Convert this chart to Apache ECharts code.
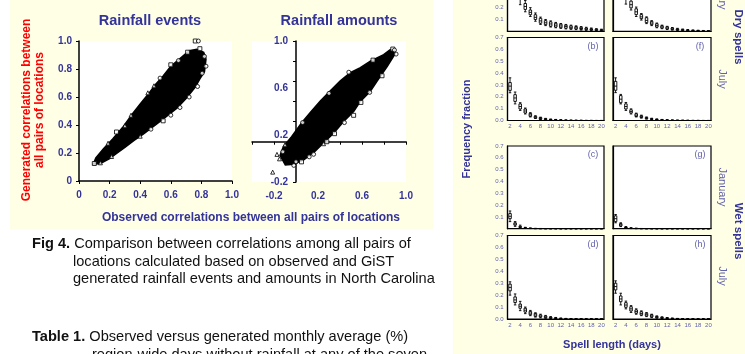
<!DOCTYPE html>
<html>
<head>
<meta charset="utf-8">
<script src="https://cdn.jsdelivr.net/npm/echarts@6/dist/echarts.min.js"></script>
<style>
  html, body { margin: 0; padding: 0; background: #fff; }
  #chart { width: 745px; height: 354px; }
</style>
</head>
<body>
<div id="chart"></div>
<script>
const FONT = '"Liberation Sans", Arial, sans-serif';
const BLUE = '#333399';
const LIGHT_BLUE = '#6262ad';

// ---- scatter data (correlations, observed vs generated) ----
// outline of the solid black point cloud
const eventsCloud = [
  [0.093, 0.12], [0.14, 0.125], [0.2, 0.16], [0.25, 0.2], [0.3, 0.24], [0.36, 0.29], [0.42, 0.335],
  [0.5, 0.4], [0.57, 0.46], [0.64, 0.52], [0.7, 0.59], [0.76, 0.67], [0.79, 0.73], [0.82, 0.78],
  [0.83, 0.87], [0.815, 0.92], [0.77, 0.94], [0.72, 0.93], [0.66, 0.875], [0.6, 0.82], [0.55, 0.75],
  [0.5, 0.69], [0.46, 0.63], [0.4, 0.55], [0.35, 0.48], [0.29, 0.39], [0.22, 0.3], [0.16, 0.23], [0.11, 0.165]
];
const eventsSquares = [[0.76, 1.0], [0.71, 0.92], [0.1, 0.125], [0.245, 0.35], [0.6, 0.83], [0.79, 0.945], [0.55, 0.43]];
const eventsCircles = [[0.78, 1.0], [0.82, 0.89], [0.805, 0.77], [0.775, 0.675], [0.72, 0.6], [0.66, 0.525],
  [0.6, 0.47], [0.47, 0.37], [0.65, 0.86], [0.53, 0.735], [0.83, 0.82]];
const eventsTriangles = [[0.213, 0.175], [0.49, 0.68], [0.45, 0.63], [0.34, 0.47], [0.19, 0.27], [0.14, 0.13], [0.3, 0.395], [0.4, 0.32]];

const amountsCloud = [
  [0.888, 0.91], [0.903, 0.877], [0.827, 0.744], [0.736, 0.6], [0.676, 0.5], [0.585, 0.4],
  [0.524, 0.3], [0.433, 0.2], [0.342, 0.085], [0.252, -0.01], [0.16, -0.11], [0.07, -0.18],
  [-0.02, -0.225], [-0.097, -0.23], [-0.145, -0.136], [-0.115, -0.05], [-0.04, 0.05], [0.05, 0.185],
  [0.13, 0.29], [0.221, 0.405], [0.312, 0.505], [0.403, 0.605], [0.494, 0.685], [0.585, 0.735],
  [0.676, 0.8], [0.736, 0.832], [0.797, 0.865], [0.858, 0.915]
];
const amountsSquares = [[0.524, 0.262], [0.59, 0.39], [0.782, 0.655], [0.28, 0.0], [0.88, 0.92], [0.7, 0.81], [0.05, -0.2], [0.35, 0.08]];
const amountsCircles = [[0.895, 0.91], [0.91, 0.87], [0.67, 0.49], [0.44, 0.19], [0.16, -0.125], [-0.02, -0.235], [0.0, -0.2],
  [0.48, 0.69], [0.3, 0.48], [0.06, 0.19], [-0.12, -0.1], [0.12, -0.15]];
const amountsTriangles = [[-0.212, -0.302], [-0.173, -0.126], [-0.15, -0.17], [-0.1, -0.03], [0.25, -0.02]];

const amountsLabels = ['-0.2', '0.2', '0.6', '1.0'];

// ---- spell length box plots: [min, q1, median, q3, max] for 2..20 days ----
const days = ['2', '3', '4', '5', '6', '7', '8', '9', '10', '11', '12', '13', '14', '15', '16', '17', '18', '19', '20'];

const dryJanA = [
  [0.36, 0.40, 0.42, 0.44, 0.48], [0.28, 0.31, 0.33, 0.35, 0.38], [0.225, 0.275, 0.29, 0.305, 0.33],
  [0.165, 0.185, 0.21, 0.235, 0.26], [0.125, 0.14, 0.16, 0.18, 0.2], [0.085, 0.1, 0.118, 0.14, 0.155],
  [0.058, 0.068, 0.088, 0.11, 0.12], [0.048, 0.056, 0.072, 0.09, 0.1], [0.036, 0.043, 0.062, 0.08, 0.088],
  [0.03, 0.036, 0.052, 0.068, 0.075], [0.025, 0.03, 0.045, 0.06, 0.066], [0.02, 0.026, 0.04, 0.052, 0.058],
  [0.017, 0.022, 0.034, 0.046, 0.052], [0.014, 0.019, 0.029, 0.04, 0.046], [0.01, 0.016, 0.024, 0.034, 0.04],
  [0.008, 0.013, 0.02, 0.028, 0.034], [0.006, 0.01, 0.016, 0.022, 0.028], [0.004, 0.008, 0.012, 0.018, 0.022],
  [0.003, 0.006, 0.01, 0.014, 0.018]
];
const dryJanE = [
  [0.4, 0.44, 0.46, 0.48, 0.52], [0.3, 0.33, 0.35, 0.37, 0.4], [0.23, 0.28, 0.3, 0.32, 0.35],
  [0.18, 0.198, 0.225, 0.255, 0.27], [0.125, 0.141, 0.165, 0.19, 0.205], [0.095, 0.107, 0.122, 0.141, 0.15],
  [0.065, 0.073, 0.092, 0.115, 0.122], [0.048, 0.056, 0.07, 0.084, 0.09], [0.03, 0.036, 0.05, 0.064, 0.07],
  [0.022, 0.027, 0.037, 0.047, 0.052], [0.015, 0.019, 0.028, 0.038, 0.042], [0.01, 0.014, 0.02, 0.028, 0.032],
  [0.007, 0.01, 0.015, 0.021, 0.025], [0.005, 0.007, 0.011, 0.016, 0.019], [0.003, 0.005, 0.008, 0.012, 0.015],
  [0.002, 0.004, 0.006, 0.009, 0.011], [0.001, 0.003, 0.004, 0.007, 0.009], [0.001, 0.002, 0.003, 0.005, 0.007],
  [0, 0.001, 0.002, 0.004, 0.005]
];
const dryJulB = [
  [0.234, 0.254, 0.29, 0.32, 0.36], [0.14, 0.161, 0.19, 0.218, 0.24], [0.085, 0.097, 0.118, 0.14, 0.15],
  [0.055, 0.063, 0.08, 0.097, 0.105], [0.03, 0.035, 0.047, 0.06, 0.066], [0.017, 0.02, 0.028, 0.035, 0.04],
  [0.008, 0.01, 0.017, 0.025, 0.028], [0.005, 0.007, 0.011, 0.015, 0.018], [0.003, 0.004, 0.007, 0.01, 0.012],
  [0.002, 0.003, 0.005, 0.007, 0.009], [0.001, 0.002, 0.003, 0.005, 0.006], [0.001, 0.001, 0.002, 0.003, 0.004],
  [0, 0.001, 0.001, 0.002, 0.003], [0, 0, 0.001, 0.002, 0.002], [0, 0, 0.001, 0.001, 0.002],
  [0, 0, 0, 0.001, 0.001], [0, 0, 0, 0.001, 0.001], [0, 0, 0, 0, 0.001], [0, 0, 0, 0, 0.001]
];
const dryJulF = [
  [0.235, 0.255, 0.29, 0.33, 0.36], [0.14, 0.15, 0.18, 0.21, 0.22], [0.085, 0.097, 0.118, 0.14, 0.152],
  [0.055, 0.063, 0.075, 0.09, 0.098], [0.03, 0.034, 0.045, 0.057, 0.062], [0.02, 0.025, 0.032, 0.04, 0.045],
  [0.012, 0.015, 0.02, 0.025, 0.03], [0.007, 0.009, 0.012, 0.016, 0.019], [0.004, 0.005, 0.008, 0.011, 0.013],
  [0.002, 0.003, 0.005, 0.007, 0.009], [0.001, 0.002, 0.003, 0.005, 0.006], [0.001, 0.001, 0.002, 0.003, 0.004],
  [0, 0.001, 0.001, 0.002, 0.003], [0, 0, 0.001, 0.002, 0.002], [0, 0, 0.001, 0.001, 0.002],
  [0, 0, 0, 0.001, 0.001], [0, 0, 0, 0.001, 0.001], [0, 0, 0, 0, 0.001], [0, 0, 0, 0, 0.001]
];
const wetJanC = [
  [0.06, 0.085, 0.105, 0.128, 0.15], [0.02, 0.03, 0.04, 0.05, 0.06], [0.005, 0.01, 0.015, 0.02, 0.03],
  [0.002, 0.004, 0.006, 0.009, 0.012], [0.001, 0.002, 0.003, 0.004, 0.006], [0, 0.001, 0.001, 0.002, 0.003],
  [0, 0, 0.001, 0.001, 0.002], [0, 0, 0, 0.001, 0.001], [0, 0, 0, 0, 0.001], [0, 0, 0, 0, 0.001],
  [0, 0, 0, 0, 0], [0, 0, 0, 0, 0], [0, 0, 0, 0, 0], [0, 0, 0, 0, 0], [0, 0, 0, 0, 0],
  [0, 0, 0, 0, 0], [0, 0, 0, 0, 0], [0, 0, 0, 0, 0], [0, 0, 0, 0, 0]
];
const wetJanG = [
  [0.05, 0.06, 0.085, 0.109, 0.12], [0.018, 0.023, 0.033, 0.043, 0.05], [0.004, 0.007, 0.01, 0.014, 0.018],
  [0.001, 0.002, 0.004, 0.006, 0.008], [0, 0.001, 0.002, 0.003, 0.004], [0, 0, 0.001, 0.001, 0.002],
  [0, 0, 0, 0.001, 0.001], [0, 0, 0, 0, 0.001], [0, 0, 0, 0, 0], [0, 0, 0, 0, 0],
  [0, 0, 0, 0, 0], [0, 0, 0, 0, 0], [0, 0, 0, 0, 0], [0, 0, 0, 0, 0], [0, 0, 0, 0, 0],
  [0, 0, 0, 0, 0], [0, 0, 0, 0, 0], [0, 0, 0, 0, 0], [0, 0, 0, 0, 0]
];
const wetJulD = [
  [0.2, 0.236, 0.265, 0.292, 0.312], [0.118, 0.138, 0.16, 0.185, 0.21], [0.07, 0.09, 0.107, 0.125, 0.148],
  [0.045, 0.058, 0.074, 0.09, 0.1], [0.028, 0.036, 0.05, 0.064, 0.072], [0.016, 0.022, 0.034, 0.047, 0.052],
  [0.01, 0.016, 0.024, 0.034, 0.04], [0.006, 0.01, 0.017, 0.025, 0.03], [0.004, 0.007, 0.011, 0.016, 0.02],
  [0.002, 0.004, 0.007, 0.01, 0.013], [0.001, 0.002, 0.004, 0.006, 0.008], [0.001, 0.001, 0.002, 0.004, 0.005],
  [0, 0.001, 0.001, 0.002, 0.003], [0, 0, 0.001, 0.001, 0.002], [0, 0, 0, 0.001, 0.001],
  [0, 0, 0, 0, 0.001], [0, 0, 0, 0, 0.001], [0, 0, 0, 0, 0], [0, 0, 0, 0, 0]
];
const wetJulH = [
  [0.216, 0.244, 0.272, 0.3, 0.32], [0.118, 0.145, 0.168, 0.193, 0.216], [0.085, 0.098, 0.117, 0.137, 0.15],
  [0.055, 0.067, 0.085, 0.103, 0.112], [0.04, 0.048, 0.062, 0.076, 0.085], [0.028, 0.034, 0.047, 0.061, 0.068],
  [0.02, 0.025, 0.036, 0.048, 0.054], [0.012, 0.017, 0.026, 0.036, 0.04], [0.007, 0.01, 0.016, 0.022, 0.026],
  [0.004, 0.005, 0.01, 0.015, 0.018], [0.002, 0.004, 0.007, 0.01, 0.012], [0.001, 0.002, 0.004, 0.006, 0.008],
  [0.001, 0.001, 0.002, 0.004, 0.005], [0, 0.001, 0.001, 0.002, 0.003], [0, 0, 0.001, 0.001, 0.002],
  [0, 0, 0, 0.001, 0.001], [0, 0, 0, 0, 0.001], [0, 0, 0, 0, 0.001], [0, 0, 0, 0, 0]
];

// panel order: a, e, b, f, c, g, d, h
const panelData = [dryJanA, dryJanE, dryJulB, dryJulF, wetJanC, wetJanG, wetJulD, wetJulH];
const panelLetters = ['(a)', '(e)', '(b)', '(f)', '(c)', '(g)', '(d)', '(h)'];

const colLeft = [507.5, 613];
const colWidth = [96.5, 98];
const rowTop = [-51.5, 37.5, 146, 235.5];
const rowHeight = [82.8, 83, 82.7, 83.5];

const grids = [];
const xAxes = [];
const yAxes = [];
const series = [];

panelData.forEach(function (data, i) {
  const col = i % 2;
  const row = Math.floor(i / 2);
  const showX = row === 1 || row === 3;
  grids.push({
    left: colLeft[col], top: rowTop[row], width: colWidth[col], height: rowHeight[row],
    show: true, backgroundColor: '#fff', borderColor: '#000', borderWidth: 1.2,
    containLabel: false, outerBoundsMode: 'none'
  });
  xAxes.push({
    gridIndex: i, type: 'category', data: days, boundaryGap: true,
    axisLine: { onZero: false, lineStyle: { color: '#000', width: 1.2 } },
    axisTick: { interval: 0, inside: true, length: 2, lineStyle: { color: '#000', width: 0.8 } },
    axisLabel: { show: showX, interval: 1, fontSize: 6, color: LIGHT_BLUE, margin: 3, fontFamily: FONT },
    splitLine: { show: false }
  });
  yAxes.push({
    gridIndex: i, type: 'value', min: 0, max: 0.7, interval: 0.1,
    axisLine: { show: true, onZero: false, lineStyle: { color: '#000', width: 1.2 } },
    axisTick: { length: 2, lineStyle: { color: '#000', width: 0.8 } },
    axisLabel: {
      show: col === 0, fontSize: 6, color: LIGHT_BLUE, margin: 4, fontFamily: FONT,
      formatter: function (v) { return (v === 0 && !showX) ? '' : v.toFixed(1); }
    },
    splitLine: { show: false }
  });
  series.push({
    type: 'boxplot', xAxisIndex: i, yAxisIndex: i, data: data,
    boxWidth: [2.5, 3], silent: true,
    itemStyle: { color: '#fff', borderColor: '#000', borderWidth: 0.9 }
  });
});

// scatter grids: 8 = rainfall events, 9 = rainfall amounts
grids.push({ left: 79, top: 41, width: 153, height: 140, show: true, backgroundColor: '#fff', borderWidth: 0, containLabel: false, outerBoundsMode: 'none' });
grids.push({ left: 252, top: 41, width: 154, height: 141, show: true, backgroundColor: '#fff', borderWidth: 0, containLabel: false, outerBoundsMode: 'none' });

const scatterLabel = { fontSize: 10, fontWeight: 'bold', color: BLUE, fontFamily: FONT };
xAxes.push({
  gridIndex: 8, type: 'value', min: 0, max: 1, interval: 0.2,
  axisLine: { lineStyle: { color: '#000', width: 1.5 } },
  axisTick: { length: 3, lineStyle: { color: '#000' } },
  axisLabel: Object.assign({ margin: 9, formatter: function (v) { return v === 0 ? '0' : v.toFixed(1); } }, scatterLabel),
  splitLine: { show: false }
});
yAxes.push({
  gridIndex: 8, type: 'value', min: 0, max: 1, interval: 0.2,
  axisLine: { lineStyle: { color: '#000', width: 1.5 } },
  axisTick: { length: 3, lineStyle: { color: '#000' } },
  axisLabel: Object.assign({ margin: 7, formatter: function (v) { return v === 0 ? '0' : v.toFixed(1); } }, scatterLabel),
  splitLine: { show: false }
});
xAxes.push({
  gridIndex: 9, type: 'value', min: -0.4, max: 1.0, interval: 0.2,
  axisLine: { onZero: true, onZeroAxisIndex: 9, lineStyle: { color: '#000', width: 1.5 } },
  axisTick: { length: 3, lineStyle: { color: '#000' } },
  axisLabel: Object.assign({
    margin: 9,
    formatter: function (v) {
      const s = (Math.round(v * 10) / 10).toFixed(1);
      return amountsLabels.indexOf(s) >= 0 ? s : '';
    }
  }, scatterLabel),
  splitLine: { show: false }
});
yAxes.push({
  gridIndex: 9, type: 'value', min: -0.4, max: 1.0, interval: 0.2,
  axisLine: { onZero: true, lineStyle: { color: '#000', width: 1.5 } },
  axisTick: { length: 3, lineStyle: { color: '#000' } },
  axisLabel: { show: false },
  splitLine: { show: false }
});
// label-only axis, placed like the labels printed on the poster
yAxes.push({
  gridIndex: 9, type: 'value', min: -0.2, max: 1.0, interval: 0.4, position: 'left', offset: -44,
  axisLine: { show: false, onZero: false }, axisTick: { show: false },
  axisLabel: Object.assign({ margin: 8, formatter: function (v) { return v.toFixed(1); } }, scatterLabel),
  splitLine: { show: false }
});

function cloudSeries(axisIdx, pts) {
  return {
    type: 'custom', coordinateSystem: 'cartesian2d', xAxisIndex: axisIdx, yAxisIndex: axisIdx,
    data: pts, silent: true,
    renderItem: function (params, api) {
      if (params.dataIndex !== 0) return null;
      return {
        type: 'polygon',
        shape: { points: pts.map(function (p) { return api.coord(p); }) },
        style: { fill: '#000', stroke: '#000', lineWidth: 1.5 }
      };
    }
  };
}
function markerSeries(axisIdx, pts, symbol) {
  return {
    type: 'scatter', xAxisIndex: axisIdx, yAxisIndex: axisIdx, data: pts, symbol: symbol,
    symbolSize: 4, silent: true,
    itemStyle: { color: '#fff', borderColor: '#000', borderWidth: 1 }
  };
}
series.push(cloudSeries(8, eventsCloud));
series.push(markerSeries(8, eventsSquares, 'rect'));
series.push(markerSeries(8, eventsCircles, 'circle'));
series.push(markerSeries(8, eventsTriangles, 'triangle'));
series.push(cloudSeries(9, amountsCloud));
series.push(markerSeries(9, amountsSquares, 'rect'));
series.push(markerSeries(9, amountsCircles, 'circle'));
series.push(markerSeries(9, amountsTriangles, 'triangle'));

function txt(x, y, text, opts) {
  const o = opts || {};
  return {
    type: 'text', x: x, y: y, rotation: o.rotation || 0, z: 100,
    style: {
      text: text, fill: o.color || BLUE, fontFamily: FONT,
      fontSize: o.size || 12, fontWeight: o.weight || 'bold',
      textAlign: o.align || 'center', textVerticalAlign: 'middle',
      lineHeight: o.lineHeight, rich: o.rich
    }
  };
}

const CAP = 14.6;
const captionRich = { b: { fontWeight: 'bold', fontSize: CAP, fontFamily: FONT, fill: '#111' } };
const capOpts = { size: CAP, weight: 'normal', color: '#111', align: 'left' };
const graphics = [
  { type: 'rect', z: -10, shape: { x: 10, y: 0, width: 423, height: 229 }, style: { fill: '#ffffe6' } },
  { type: 'rect', z: -10, shape: { x: 453, y: 0, width: 292, height: 354 }, style: { fill: '#ffffe6' } },
  txt(150, 21, 'Rainfall events', { size: 14.5 }),
  txt(339, 21, 'Rainfall amounts', { size: 14.5 }),
  txt(33.5, 110, 'Generated correlations between\nall pairs of locations', { size: 12, color: '#f00', rotation: Math.PI / 2, lineHeight: 13 }),
  txt(251, 218, 'Observed correlations between all pairs of locations', { size: 12 }),
  txt(32, 244, '{b|Fig 4.} Comparison between correlations among all pairs of', Object.assign({ rich: captionRich }, capOpts)),
  txt(73, 262, 'locations calculated based on observed and GiST', capOpts),
  txt(73, 279, 'generated rainfall events and amounts in North Carolina', capOpts),
  txt(32, 337, '{b|Table 1.} Observed versus generated monthly average (%)', Object.assign({ rich: captionRich }, capOpts)),
  txt(92, 355, 'region-wide days without rainfall at any of the seven', capOpts),
  txt(467, 129, 'Frequency fraction', { size: 11, rotation: Math.PI / 2 }),
  txt(612, 345, 'Spell length (days)', { size: 11 }),
  txt(738, 37, 'Dry spells', { size: 11.5, rotation: -Math.PI / 2 }),
  txt(738, 231, 'Wet spells', { size: 11.5, rotation: -Math.PI / 2 }),
  txt(722, -10, 'January', { size: 11, weight: 'normal', color: LIGHT_BLUE, rotation: -Math.PI / 2 }),
  txt(722, 79, 'July', { size: 11, weight: 'normal', color: LIGHT_BLUE, rotation: -Math.PI / 2 }),
  txt(722, 187, 'January', { size: 11, weight: 'normal', color: LIGHT_BLUE, rotation: -Math.PI / 2 }),
  txt(722, 276, 'July', { size: 11, weight: 'normal', color: LIGHT_BLUE, rotation: -Math.PI / 2 })
];
panelLetters.forEach(function (letter, i) {
  const col = i % 2;
  const row = Math.floor(i / 2);
  graphics.push(txt(colLeft[col] + colWidth[col] - 11, rowTop[row] + 9, letter, { size: 9, weight: 'normal', color: LIGHT_BLUE }));
});

const option = {
  animation: false,
  backgroundColor: '#fff',
  grid: grids,
  xAxis: xAxes,
  yAxis: yAxes,
  series: series,
  graphic: graphics
};

const chart = echarts.init(document.getElementById('chart'), null, { renderer: 'canvas' });
chart.setOption(option);
</script>
</body>
</html>
